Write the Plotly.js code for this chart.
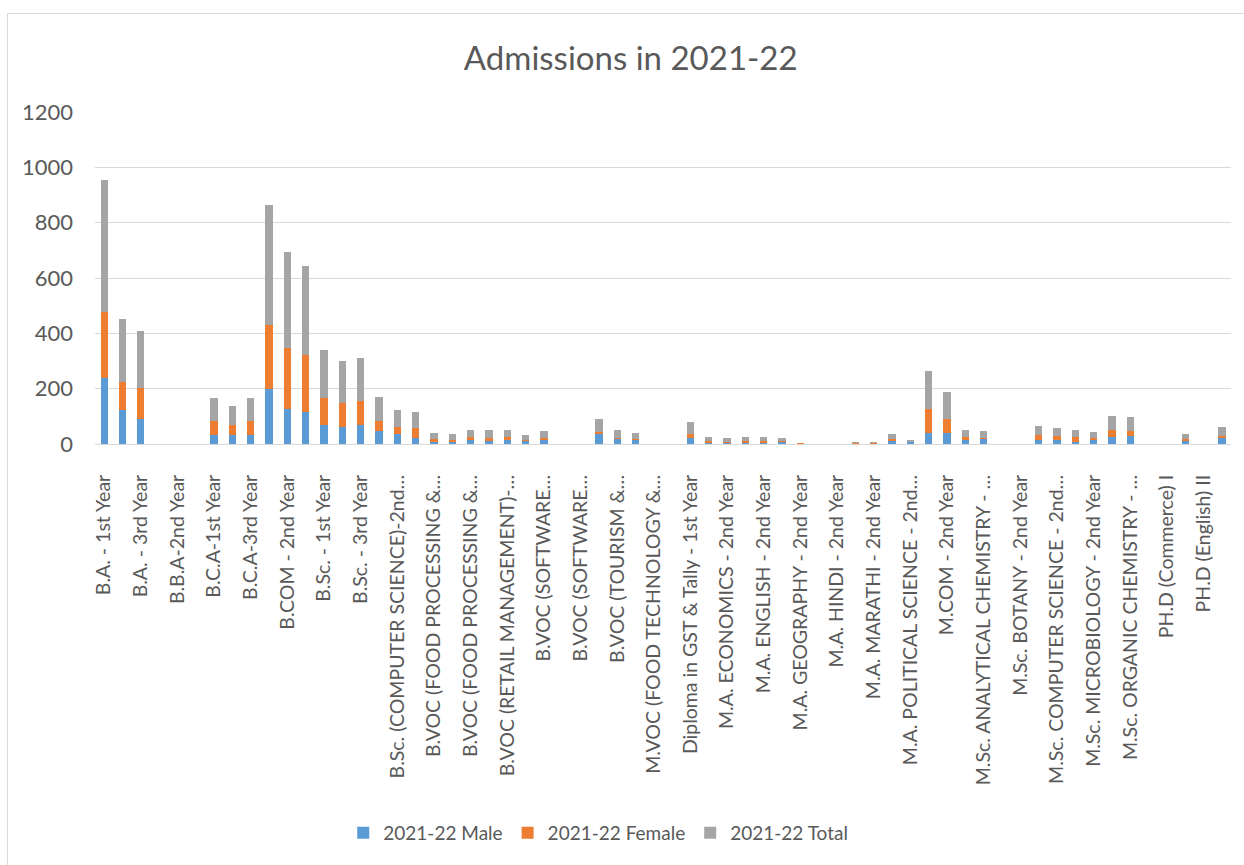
<!DOCTYPE html>
<html>
<head>
<meta charset="utf-8">
<script src="https://cdn.plot.ly/plotly-3.0.1.min.js"></script>
<style>
  html, body { margin: 0; padding: 0; background: #fff; overflow: hidden; }
  #frame { position: absolute; left: 7px; top: 13px; width: 1260px; height: 880px; border: 1px solid #d9d9d9; }
  #chart { position: absolute; left: 0; top: 0; width: 1244px; height: 865px; }
</style>
</head>
<body>
<div id="frame"></div>
<div id="chart"></div>
<script>
const categories = [
  "B.A. - 1st Year", "B.A. - 2nd Year", "B.A. - 3rd Year",
  "B.B.A-1st Year", "B.B.A-2nd Year", "B.B.A-3rd Year",
  "B.C.A-1st Year", "B.C.A-2nd Year", "B.C.A-3rd Year",
  "B.COM - 1st Year", "B.COM - 2nd Year", "B.COM - 3rd Year",
  "B.Sc. - 1st Year", "B.Sc. - 2nd Year", "B.Sc. - 3rd Year",
  "B.Sc. (COMPUTER SCIENCE)-1st Year", "B.Sc. (COMPUTER SCIENCE)-2nd Year", "B.Sc. (COMPUTER SCIENCE)-3rd Year",
  "B.VOC (FOOD PROCESSING & QUALITY MANAGEMENT)-1st Year", "B.VOC (FOOD PROCESSING & QUALITY MANAGEMENT)-2nd Year", "B.VOC (FOOD PROCESSING & QUALITY MANAGEMENT)-3rd Year",
  "B.VOC (RETAIL MANAGEMENT)-1st Year", "B.VOC (RETAIL MANAGEMENT)-2nd Year", "B.VOC (RETAIL MANAGEMENT)-3rd Year",
  "B.VOC (SOFTWARE DEVELOPMENT)-1st Year", "B.VOC (SOFTWARE DEVELOPMENT)-2nd Year", "B.VOC (SOFTWARE DEVELOPMENT)-3rd Year",
  "B.VOC (TOURISM & HOSPITALITY)-1st Year", "B.VOC (TOURISM & HOSPITALITY)-2nd Year", "B.VOC (TOURISM & HOSPITALITY)-3rd Year",
  "M.VOC (FOOD TECHNOLOGY & PROCESSING)-1st Year", "M.VOC (FOOD TECHNOLOGY & PROCESSING)-2nd Year",
  "Diploma in GST & Tally - 1st Year",
  "M.A. ECONOMICS - 1st Year", "M.A. ECONOMICS - 2nd Year",
  "M.A. ENGLISH - 1st Year", "M.A. ENGLISH - 2nd Year",
  "M.A. GEOGRAPHY - 1st Year", "M.A. GEOGRAPHY - 2nd Year",
  "M.A. HINDI - 1st Year", "M.A. HINDI - 2nd Year",
  "M.A. MARATHI - 1st Year", "M.A. MARATHI - 2nd Year",
  "M.A. POLITICAL SCIENCE - 1st Year", "M.A. POLITICAL SCIENCE - 2nd Year",
  "M.COM - 1st Year", "M.COM - 2nd Year",
  "M.Sc. ANALYTICAL CHEMISTRY - 1st Year", "M.Sc. ANALYTICAL CHEMISTRY - 2nd Year",
  "M.Sc. BOTANY - 1st Year", "M.Sc. BOTANY - 2nd Year",
  "M.Sc. COMPUTER SCIENCE - 1st Year", "M.Sc. COMPUTER SCIENCE - 2nd Year",
  "M.Sc. MICROBIOLOGY - 1st Year", "M.Sc. MICROBIOLOGY - 2nd Year",
  "M.Sc. ORGANIC CHEMISTRY - 1st Year", "M.Sc. ORGANIC CHEMISTRY - 2nd Year",
  "M.Sc. ZOOLOGY - 2nd Year",
  "PH.D (Commerce) I", "PH.D (English) I", "PH.D (English) II", "PH.D (Hindi) I"
];

const tickLabels = [
  "B.A. - 1st Year", "B.A. - 3rd Year", "B.B.A-2nd Year", "B.C.A-1st Year", "B.C.A-3rd Year",
  "B.COM - 2nd Year", "B.Sc. - 1st Year", "B.Sc. - 3rd Year", "B.Sc. (COMPUTER SCIENCE)-2nd…",
  "B.VOC (FOOD PROCESSING &…", "B.VOC (FOOD PROCESSING &…", "B.VOC (RETAIL MANAGEMENT)-…",
  "B.VOC (SOFTWARE…", "B.VOC (SOFTWARE…", "B.VOC (TOURISM &…", "M.VOC (FOOD TECHNOLOGY &…",
  "Diploma in GST & Tally - 1st Year", "M.A. ECONOMICS - 2nd Year", "M.A. ENGLISH - 2nd Year",
  "M.A. GEOGRAPHY - 2nd Year", "M.A. HINDI - 2nd Year", "M.A. MARATHI - 2nd Year",
  "M.A. POLITICAL SCIENCE - 2nd…", "M.COM - 2nd Year", "M.Sc. ANALYTICAL CHEMISTRY - …",
  "M.Sc. BOTANY - 2nd Year", "M.Sc. COMPUTER SCIENCE - 2nd…", "M.Sc. MICROBIOLOGY - 2nd Year",
  "M.Sc. ORGANIC CHEMISTRY - …", "PH.D (Commerce) I", "PH.D (English) II"
];

const male = [
  240, 124, 90, 0, 0, 0, 33, 31, 32, 199, 127, 116, 68, 60, 67, 46, 35, 22,
  6, 6, 14, 12, 15, 10, 15, 0, 0, 37, 19, 15, 0, 0, 20, 2, 2, 4, 3, 6, 1, 0,
  0, 1, 1, 11, 6, 40, 38, 16, 18, 0, 0, 13, 16, 8, 13, 25, 30, 0, 0, 11, 0, 22
];
const female = [
  236, 100, 111, 0, 0, 0, 49, 37, 50, 231, 219, 205, 100, 87, 87, 37, 25, 36,
  12, 10, 11, 11, 9, 5, 7, 0, 0, 8, 3, 2, 0, 0, 17, 10, 6, 8, 9, 4, 1, 0,
  0, 2, 3, 6, 2, 88, 54, 9, 4, 0, 0, 18, 12, 17, 10, 25, 17, 0, 0, 7, 0, 8
];
const total = [
  479, 228, 207, 0, 0, 0, 84, 68, 84, 434, 347, 324, 171, 153, 158, 88, 64, 59,
  23, 21, 27, 26, 28, 18, 24, 0, 0, 46, 29, 22, 0, 0, 41, 15, 13, 15, 15, 10, 3, 0,
  1, 5, 4, 20, 8, 135, 96, 24, 24, 0, 0, 33, 30, 24, 22, 52, 52, 0, 0, 17, 0, 32
];

const seriesNames = ["2021-22 Male", "2021-22 Female", "2021-22 Total"];
const seriesColors = ["#5B9BD5", "#ED7D31", "#A5A5A5"];
const seriesValues = [male, female, total];

const tickVals = categories.filter((c, i) => i % 2 === 0);

const FONT = "Lato, 'Open Sans', sans-serif";
const GREY = "#595959";

const traces = seriesValues.map((vals, k) => ({
  type: "bar",
  name: seriesNames[k],
  x: categories,
  y: vals,
  marker: { color: seriesColors[k], line: { width: 0 } },
  hoverinfo: "x+y+name"
}));

const layout = {
  width: 1244,
  height: 865,
  paper_bgcolor: "rgba(0,0,0,0)",
  plot_bgcolor: "rgba(0,0,0,0)",
  margin: { l: 95, r: 13, t: 112, b: 421, autoexpand: false },
  barmode: "stack",
  bargap: 0.6,
  font: { family: FONT, color: GREY },
  title: {
    text: "Admissions in 2021-22",
    font: { family: FONT, size: 33, color: GREY },
    xref: "container", x: 0.507, xanchor: "center",
    yref: "container", y: 1 - 58 / 865, yanchor: "middle"
  },
  xaxis: {
    type: "category",
    tickmode: "array",
    tickvals: tickVals,
    ticktext: tickLabels,
    tickangle: -90,
    tickfont: { family: FONT, size: 19.5, color: GREY },
    showgrid: false,
    showline: true,
    linecolor: "#d9d9d9",
    linewidth: 1,
    ticks: "",
    ticklabelstandoff: 22,
    automargin: false,
    fixedrange: true
  },
  yaxis: {
    range: [0, 1200],
    tickmode: "linear",
    tick0: 0,
    dtick: 200,
    showgrid: true,
    gridcolor: "#d9d9d9",
    gridwidth: 1,
    zeroline: false,
    showline: false,
    ticks: "",
    tickfont: { family: FONT, size: 22, color: GREY },
    ticklabelstandoff: 21,
    automargin: false,
    fixedrange: true
  },
  showlegend: true,
  legend: {
    orientation: "h",
    traceorder: "normal",
    xref: "paper", x: 0.443, xanchor: "center",
    yref: "paper", y: (444 - 833) / 332, yanchor: "middle",
    font: { family: FONT, size: 19, color: GREY },
    itemclick: false,
    itemdoubleclick: false
  }
};

Plotly.newPlot("chart", traces, layout, { displayModeBar: false, staticPlot: true });
</script>
</body>
</html>
